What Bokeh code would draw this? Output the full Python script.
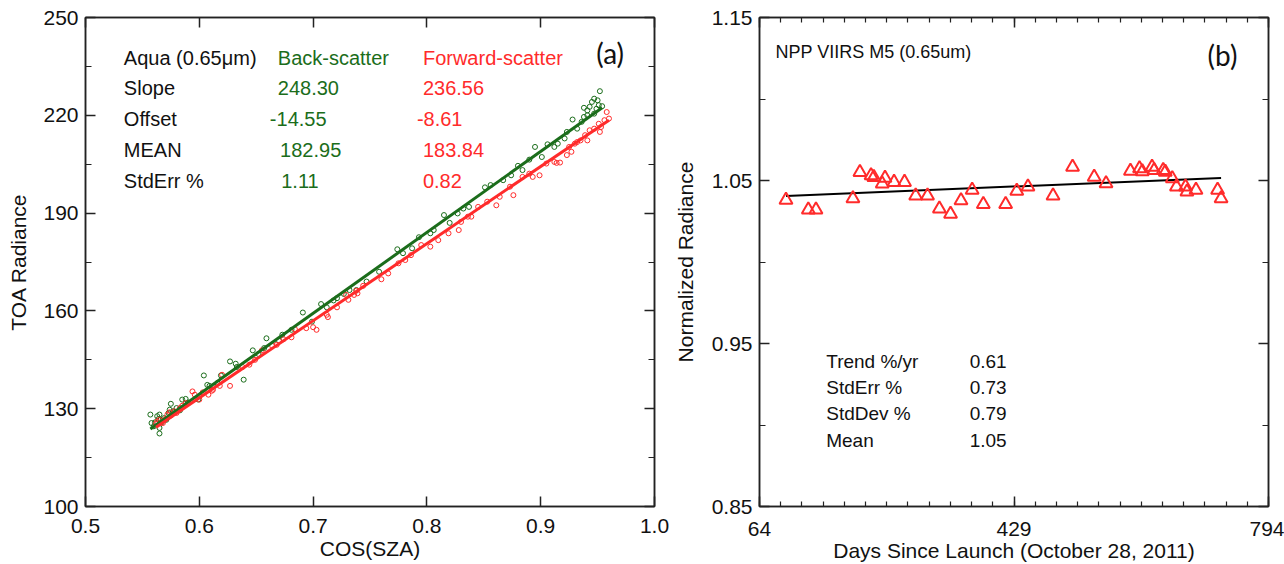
import numpy as np
from bokeh.plotting import figure
from bokeh.layouts import row
from bokeh.models import Range1d, FixedTicker, LinearAxis, Label
from bokeh.embed import file_html
from bokeh.resources import INLINE

# ---------------- Panel (a) data ----------------
back_cos = [0.557, 0.558, 0.560, 0.561, 0.563, 0.564, 0.565, 0.566, 0.565, 0.565, 0.567, 0.569, 0.571,
            0.573, 0.574, 0.575, 0.577, 0.578, 0.580, 0.583, 0.585, 0.588, 0.590, 0.599, 0.604, 0.607,
            0.609, 0.612, 0.616, 0.619, 0.627, 0.632, 0.633, 0.639, 0.647, 0.652, 0.657, 0.659, 0.670,
            0.673, 0.681, 0.691, 0.699, 0.707, 0.712, 0.718, 0.721, 0.727, 0.732, 0.738, 0.747,
            0.758, 0.774, 0.779, 0.787, 0.793, 0.803, 0.806, 0.815, 0.820, 0.827, 0.832, 0.837, 0.851,
            0.856, 0.867, 0.874, 0.880, 0.884, 0.890, 0.895, 0.901, 0.906, 0.912, 0.915, 0.921, 0.923,
            0.928, 0.932, 0.938, 0.941, 0.943, 0.945, 0.947, 0.949, 0.951, 0.952, 0.950, 0.947, 0.938,
            0.941, 0.954, 0.936]
back_rad = [128.2, 125.6, 124.6, 125.8, 127.7, 126.8, 128.2, 126.6, 124.1, 122.4, 125.8, 127.1, 126.6,
            128.7, 129.7, 131.5, 129.2, 128.9, 130.2, 129.5, 132.8, 133.0, 131.9, 132.8, 140.2, 137.3,
            137.0, 136.8, 137.9, 140.2, 144.5, 143.8, 142.8, 138.9, 147.9, 146.8, 148.6, 151.6, 150.9,
            152.7, 154.2, 159.5, 156.7, 162.1, 161.1, 163.2, 163.9, 165.2, 166.4, 166.4, 169.0,
            172.0, 178.9, 177.7, 179.2, 182.6, 183.8, 184.8, 189.4, 187.0, 189.9, 191.4, 191.9, 197.9,
            198.6, 200.1, 201.6, 204.5, 203.2, 206.4, 210.3, 207.2, 211.1, 210.3, 211.3, 212.9, 214.9,
            218.7, 215.9, 219.5, 221.5, 222.6, 224.1, 220.5, 222.0, 223.1, 227.4, 224.6, 225.1, 222.3,
            220.0, 222.8, 218.0]
fwd_cos = [0.562, 0.563, 0.565, 0.568, 0.570, 0.572, 0.574, 0.575, 0.578, 0.580, 0.583, 0.585, 0.588,
           0.594, 0.596, 0.600, 0.603, 0.608, 0.611, 0.612, 0.618, 0.620, 0.627, 0.638, 0.644, 0.649,
           0.655, 0.664, 0.668, 0.674, 0.681, 0.684, 0.694, 0.700, 0.703, 0.712, 0.713, 0.721, 0.731,
           0.736, 0.738, 0.744,
           0.729, 0.739, 0.760, 0.766, 0.775, 0.781, 0.786, 0.795, 0.803, 0.810, 0.819, 0.828, 0.830,
           0.836, 0.839, 0.845, 0.853, 0.861, 0.864, 0.873, 0.876, 0.884, 0.890, 0.893, 0.899, 0.905,
           0.912, 0.914, 0.917, 0.923, 0.927, 0.925, 0.930, 0.935, 0.939, 0.943, 0.947, 0.951, 0.953,
           0.956, 0.958, 0.960, 0.952, 0.941, 0.932]
fwd_rad = [125.4, 126.1, 126.6, 125.6, 126.8, 128.2, 128.9, 127.9, 129.2, 128.7, 130.2, 130.9, 131.7,
           135.3, 134.3, 132.8, 135.0, 134.3, 135.5, 135.8, 137.0, 140.4, 137.0, 142.8, 143.5, 145.0,
           147.9, 149.3, 149.6, 151.3, 151.9, 154.4, 154.7, 155.0, 154.2, 158.8, 158.1, 161.1, 163.4,
           164.9, 166.2, 167.7,
           164.9, 165.4, 169.7, 171.5, 174.6, 175.6, 177.1, 180.2, 179.7, 181.7, 183.8, 184.8, 187.3,
           188.9, 188.9, 191.9, 193.5, 192.4, 195.0, 198.1, 195.5, 201.1, 202.1, 201.1, 201.6, 205.2,
           205.7, 205.4, 205.5, 207.8, 208.8, 210.3, 211.3, 212.3, 213.9, 215.4, 215.9, 217.4, 216.4,
           218.5, 221.0, 219.0, 214.9, 212.3, 211.8]
back_slope, back_offset = 248.30, -14.55
fwd_slope, fwd_offset = 236.56, -8.61
stat_names_a = ["Slope", "Offset", "MEAN", "StdErr %"]
back_vals = ["248.30", "-14.55", "182.95", "1.11"]
fwd_vals = ["236.56", "-8.61", "183.84", "0.82"]
yticks_a = [100, 130, 160, 190, 220, 250]
yminor_a = [115, 145, 175, 205, 235]
xticks_a = [0.5, 0.6, 0.7, 0.8, 0.9, 1.0]
xtick_labels_a = ["0.5", "0.6", "0.7", "0.8", "0.9", "1.0"]

# ---------------- Panel (b) data ----------------
days = [102, 134, 145, 198, 208, 224, 228, 244, 240, 257, 272, 288, 305, 322, 338, 353, 369, 385,
        417, 433, 449, 485, 513, 544, 561, 596, 609, 613, 627, 630, 643, 646, 656, 662, 675, 677,
        690, 721, 726]
norm_rad = [1.038, 1.032, 1.032, 1.039, 1.055, 1.053, 1.052, 1.0516, 1.048, 1.049, 1.049, 1.0407,
            1.0407, 1.0326, 1.0294, 1.0377, 1.0441, 1.0355, 1.0355, 1.0435, 1.0462, 1.0407, 1.0583,
            1.0522, 1.0482, 1.0559, 1.0573, 1.0555, 1.0583, 1.0563, 1.0563, 1.0552, 1.0512, 1.0462,
            1.0462, 1.0431, 1.0441, 1.0441, 1.039]
trend_days = [102, 726]
trend_vals = [1.0405, 1.0516]
stat_names_b = ["Trend %/yr", "StdErr %", "StdDev %", "Mean"]
stat_vals_b = ["0.61", "0.73", "0.79", "1.05"]
xticks_b = [64, 429, 794]
yticks_b = [0.85, 0.95, 1.05, 1.15]
yminor_b = [0.90, 1.00, 1.10]

GREEN = "#1b6d1b"
RED = "#ff2b2b"
AX = "#222222"
FONT = "Liberation Sans"


def style_axis(ax, labels=True):
    ax.axis_line_color = AX
    ax.axis_line_width = 1.5
    ax.major_tick_line_color = AX
    ax.major_tick_line_width = 1.5
    ax.minor_tick_line_color = AX
    ax.minor_tick_line_width = 1.2
    ax.major_tick_in = 10
    ax.major_tick_out = 0
    ax.minor_tick_in = 6
    ax.minor_tick_out = 0
    ax.major_label_text_font = FONT
    ax.major_label_text_color = "#111111"
    ax.axis_label_text_font = FONT
    ax.axis_label_text_font_style = "normal"
    ax.axis_label_text_font_size = "21px"
    ax.axis_label_text_color = "#111111"
    if labels:
        ax.major_label_text_font_size = "21px"
    else:
        ax.major_label_text_font_size = "1px"
        ax.major_label_text_color = None
        ax.major_label_standoff = 0


def label(p, x, y, text, color="#111111", size="20px", font=FONT, align="left"):
    p.add_layout(Label(x=x, y=y, text=text, text_color=color, text_font=font,
                       text_font_size=size, text_align=align, text_baseline="middle"))


# ---------------- Figure (a) ----------------
p1 = figure(width=670, height=564, output_backend="svg", toolbar_location=None,
            x_range=Range1d(0.5, 1.0), y_range=Range1d(100, 250),
            min_border_left=85, min_border_right=16, min_border_top=17, min_border_bottom=57)
p1.xgrid.visible = False
p1.ygrid.visible = False
p1.outline_line_color = AX
p1.outline_line_width = 1.5
p1.background_fill_color = "white"
p1.border_fill_color = "white"

p1.xaxis.ticker = FixedTicker(ticks=xticks_a, minor_ticks=[])
p1.yaxis.ticker = FixedTicker(ticks=yticks_a, minor_ticks=yminor_a)
style_axis(p1.xaxis[0])
style_axis(p1.yaxis[0])
p1.xaxis.major_label_overrides = {t: s for t, s in zip(xticks_a, xtick_labels_a)}
p1.xaxis.axis_label = "COS(SZA)"
p1.yaxis.axis_label = "TOA Radiance"
p1.xaxis.major_label_text_line_height = 0.8
p1.xaxis.axis_label_text_line_height = 0.8
p1.xaxis.major_label_standoff = 12
p1.xaxis.axis_label_standoff = 1
p1.yaxis.major_label_standoff = 7
p1.yaxis.axis_label_standoff = 10
top_a = LinearAxis(ticker=FixedTicker(ticks=xticks_a, minor_ticks=[]))
right_a = LinearAxis(ticker=FixedTicker(ticks=yticks_a, minor_ticks=yminor_a))
style_axis(top_a, labels=False)
style_axis(right_a, labels=False)
p1.add_layout(top_a, "above")
p1.add_layout(right_a, "right")

p1.scatter(back_cos, back_rad, marker="circle", size=5, fill_color=None, line_color=GREEN, line_width=1)
p1.scatter(fwd_cos, fwd_rad, marker="circle", size=5, fill_color=None, line_color=RED, line_width=1)

bx = np.array([min(back_cos), max(back_cos)])
fx = np.array([min(fwd_cos), max(fwd_cos)])
p1.line(bx, back_slope * bx + back_offset, line_color=GREEN, line_width=3)
p1.line(fx, fwd_slope * fx + fwd_offset, line_color=RED, line_width=3)

rows_y = [228.3, 218.8, 209.3, 199.8]
back_x = [0.669, 0.662, 0.671, 0.672]
fwd_x = [0.7965, 0.7912, 0.7965, 0.7965]
label(p1, 0.5337, 237.45, "Aqua (0.65\u03bcm)")
label(p1, 0.669, 237.45, "Back-scatter", color=GREEN)
label(p1, 0.7965, 237.45, "Forward-scatter", color=RED)
for name, bv, fv, yy, bxx, fxx in zip(stat_names_a, back_vals, fwd_vals, rows_y, back_x, fwd_x):
    label(p1, 0.5337, yy, name)
    label(p1, bxx, yy, bv, color=GREEN)
    label(p1, fxx, yy, fv, color=RED)
label(p1, 0.961, 239.2, "(a)", size="28px", font="Lato", align="center")

# ---------------- Figure (b) ----------------
p2 = figure(width=614, height=564, output_backend="svg", toolbar_location=None,
            x_range=Range1d(64, 794), y_range=Range1d(0.85, 1.15),
            min_border_left=87, min_border_right=16, min_border_top=17, min_border_bottom=52)
p2.xgrid.visible = False
p2.ygrid.visible = False
p2.outline_line_color = AX
p2.outline_line_width = 1.5
p2.background_fill_color = "white"
p2.border_fill_color = "white"

xminor_b = list(np.linspace(64, 794, 25))
p2.xaxis.ticker = FixedTicker(ticks=xticks_b, minor_ticks=xminor_b)
p2.yaxis.ticker = FixedTicker(ticks=yticks_b, minor_ticks=yminor_b)
style_axis(p2.xaxis[0])
style_axis(p2.yaxis[0])
p2.xaxis.minor_tick_in = 5
p2.xaxis.major_label_text_line_height = 0.7
p2.xaxis.axis_label_text_line_height = 0.7
p2.xaxis.major_label_standoff = 15
p2.xaxis.axis_label = "Days Since Launch (October 28, 2011)"
p2.xaxis.axis_label_standoff = 0
p2.yaxis.axis_label = "Normalized Radiance"
p2.yaxis.major_label_standoff = 7
p2.yaxis.axis_label_standoff = 12
top_b = LinearAxis(ticker=FixedTicker(ticks=xticks_b, minor_ticks=xminor_b))
right_b = LinearAxis(ticker=FixedTicker(ticks=yticks_b, minor_ticks=yminor_b))
style_axis(top_b, labels=False)
style_axis(right_b, labels=False)
top_b.minor_tick_in = 5
p2.add_layout(top_b, "above")
p2.add_layout(right_b, "right")

p2.line(trend_days, trend_vals, line_color="black", line_width=2)
p2.scatter(days, norm_rad, marker="triangle", size=13, fill_color=None, line_color=RED, line_width=2)

label(p2, 86.9, 1.1288, "NPP VIIRS M5 (0.65um)", size="18px")
label(p2, 728, 1.127, "(b)", size="28px", font="Lato", align="center")
rows_b = [0.9391, 0.9227, 0.9070, 0.8906]
for name, v, yy in zip(stat_names_b, stat_vals_b, rows_b):
    label(p2, 159.7, yy, name, size="19px")
    label(p2, 365.4, yy, v, size="19px")

layout = row(p1, p2)
open("out.html", "w").write(file_html(layout, INLINE))
